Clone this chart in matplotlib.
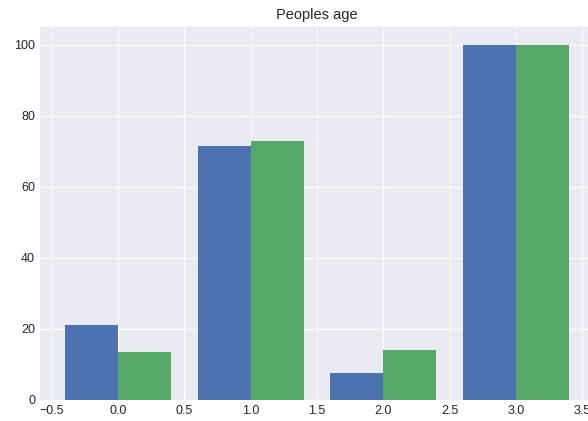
import matplotlib.pyplot as plt
import numpy as np

groups = [0, 1, 2, 3]
first = [21, 71.5, 7.5, 100]
second = [13.5, 73, 14, 100]

plt.style.use('seaborn-v0_8-darkgrid')
plt.rcParams['font.family'] = ['Liberation Sans', 'DejaVu Sans']

fig = plt.figure(figsize=(5.88, 4.21), dpi=100)
# axes run past the right edge of the figure
ax = fig.add_axes([40 / 588, 21 / 421, 554 / 588, 373 / 421])

x = np.array(groups)
w = 0.4
ax.bar(x - w / 2, first, width=w, color='#4C72B0')
ax.bar(x + w / 2, second, width=w, color='#55A868')

ax.set_title("Peoples age", fontsize=10.5)
ax.tick_params(labelsize=9)

fig.savefig("out.png", dpi=100)
